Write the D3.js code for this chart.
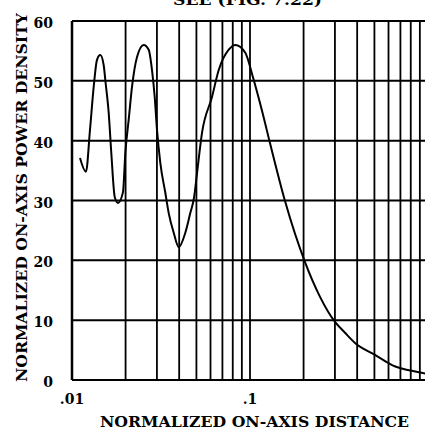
<!DOCTYPE html>
<html>
<head>
<meta charset="utf-8">
<script src="https://cdn.jsdelivr.net/npm/d3@7"></script>
<style>
  html, body { margin: 0; padding: 0; background: #fff; overflow: hidden; }
  svg { display: block; }
  text { font-family: "DejaVu Serif", "Liberation Serif", serif; font-weight: bold; fill: #000; }
</style>
</head>
<body>
<script>
// ---- data ----
const distance = [0.01109, 0.01198, 0.01262, 0.01324, 0.01382, 0.01442, 0.01507, 0.01539, 0.01608, 0.01663,
  0.01738, 0.01814, 0.01934, 0.01993, 0.02082, 0.02173, 0.02319, 0.02528, 0.02697, 0.02815,
  0.02915, 0.03003, 0.03134, 0.03344, 0.03494, 0.03728, 0.03977, 0.04330, 0.04618, 0.04850,
  0.05037, 0.05375, 0.06116, 0.06672, 0.07593, 0.08270, 0.09410, 0.1039, 0.1168, 0.1295,
  0.1573, 0.2037, 0.2474, 0.3003, 0.3418, 0.3890, 0.5038, 0.6279, 0.890, 1.0];
const density = [37.1, 34.8, 41.8, 49.0, 53.5, 54.3, 52.6, 50.1, 44.6, 37.9,
  30.6, 29.6, 31.4, 37.9, 43.5, 49.0, 54.0, 56.0, 55.2, 51.8,
  47.3, 41.8, 36.3, 31.3, 27.9, 24.6, 22.2, 24.6, 27.9, 30.5,
  34.5, 41.3, 47.3, 51.8, 55.2, 56.0, 54.7, 50.6, 45.0, 39.6,
  29.9, 19.7, 13.9, 9.7, 7.9, 6.2, 4.2, 2.5, 1.3, 1.0];
const yTicks = [0, 10, 20, 30, 40, 50, 60];
const xTickValues = [0.01, 0.1];
const xTickLabels = [".01", ".1"];
const xGridValues = [0.02,0.03,0.04,0.05,0.06,0.07,0.08,0.09,0.1,0.2,0.3,0.4,0.5,0.6,0.7,0.8,0.9];
const title = "SEE (FIG. 7.22)";
const xTitle = "NORMALIZED ON-AXIS DISTANCE";
const yTitle = "NORMALIZED ON-AXIS POWER DENSITY";

const W = 425, H = 436;
const svg = d3.select("body").append("svg").attr("width", W).attr("height", H);

const x = d3.scaleLog().domain([0.01, 1]).range([72, 428]);
const y = d3.scaleLinear().domain([0, 60]).range([380, 21]);

// grid: vertical log lines
svg.append("g").selectAll("line").data(xGridValues).join("line")
  .attr("x1", d => x(d)).attr("x2", d => x(d))
  .attr("y1", y(60)).attr("y2", y(0))
  .attr("stroke", "#000").attr("stroke-width", 1.8);

// grid: horizontal lines
svg.append("g").selectAll("line").data(yTicks).join("line")
  .attr("x1", x(0.01)).attr("x2", W)
  .attr("y1", d => y(d)).attr("y2", d => y(d))
  .attr("stroke", "#000").attr("stroke-width", 2);

// left border
svg.append("line").attr("x1", x(0.01)).attr("x2", x(0.01))
  .attr("y1", y(60)).attr("y2", y(0)).attr("stroke", "#000").attr("stroke-width", 2.5);

// curve
const pts = distance.map((d, i) => [d, density[i]]);
svg.append("path").datum(pts)
  .attr("fill", "none").attr("stroke", "#000").attr("stroke-width", 2)
  .attr("d", d3.line().x(d => x(d[0])).y(d => y(d[1])).curve(d3.curveMonotoneX));

// y tick labels
svg.append("g").selectAll("text").data(yTicks).join("text")
  .attr("x", 53).attr("y", d => y(d) + 2)
  .attr("text-anchor", "end").attr("dominant-baseline", "central")
  .attr("font-size", 14).text(d => d);

// x tick labels
svg.append("g").selectAll("text").data(xTickValues).join("text")
  .attr("x", d => x(d)).attr("y", 404)
  .attr("text-anchor", "middle").attr("font-size", 14)
  .text((d, i) => xTickLabels[i]);

// axis titles
svg.append("text").attr("x", 100).attr("y", 427)
  .attr("font-size", 14).attr("textLength", 309).attr("lengthAdjust", "spacingAndGlyphs")
  .text(xTitle);
svg.append("text")
  .attr("transform", "translate(27,382) rotate(-90)")
  .attr("font-size", 15).attr("textLength", 369).attr("lengthAdjust", "spacingAndGlyphs")
  .text(yTitle);

// title, clipped at the top edge as in the reference
svg.append("text").attr("x", 173).attr("y", 5)
  .attr("font-size", 14).attr("textLength", 149).attr("lengthAdjust", "spacingAndGlyphs")
  .text(title);
</script>
</body>
</html>
